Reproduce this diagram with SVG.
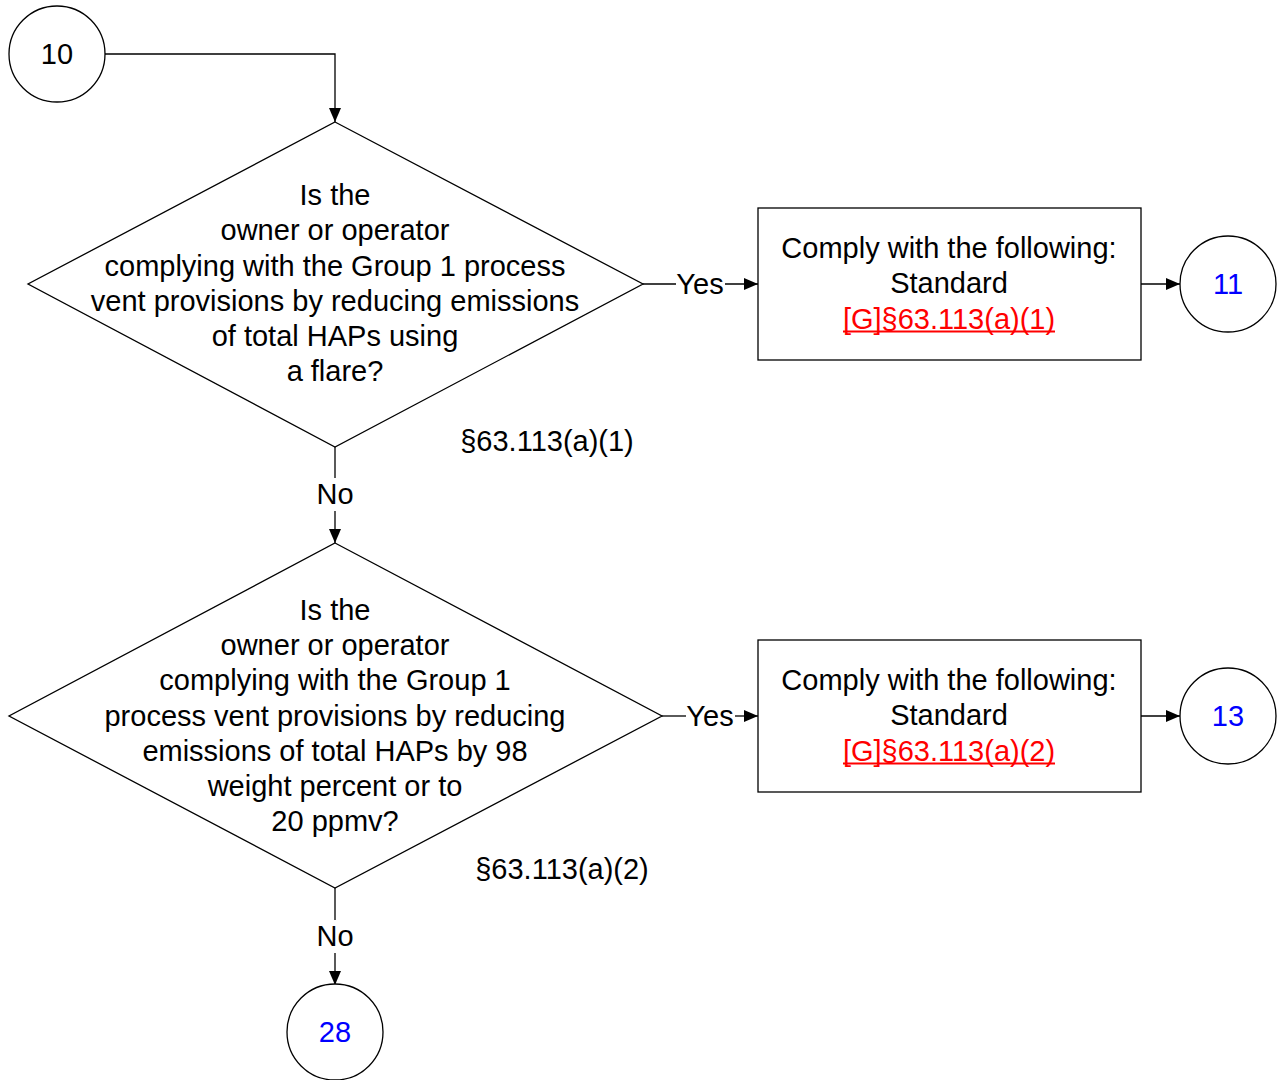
<svg xmlns="http://www.w3.org/2000/svg" width="1278" height="1080" viewBox="0 0 1278 1080">
<style>
.s{fill:#fff;stroke:#000;stroke-width:1.3}
.t{font-family:"Liberation Sans",Arial,sans-serif;font-size:29px;fill:#000;text-anchor:middle;dominant-baseline:central}
.b{fill:#0000ff}
.r{fill:#ff0000}
.u{stroke:#ff0000;stroke-width:2}
.c{fill:none;stroke:#000;stroke-width:1.3}
</style>
<defs>
<marker id="a" markerWidth="14" markerHeight="12" refX="14" refY="6" orient="auto" markerUnits="userSpaceOnUse">
<path d="M0,0 L14,6 L0,12 Z" fill="#000"/>
</marker>
</defs>
<rect width="1278" height="1080" fill="#fff"/>
<g id="connectors">
<path class="c" d="M105,54 H335 V122" marker-end="url(#a)"/>
<path class="c" d="M643,284 H676"/>
<path class="c" d="M725,284 H758" marker-end="url(#a)"/>
<path class="c" d="M1141,284 H1180" marker-end="url(#a)"/>
<path class="c" d="M335,447 V478"/>
<path class="c" d="M335,511 V543" marker-end="url(#a)"/>
<path class="c" d="M662,716 H686"/>
<path class="c" d="M735,716 H758" marker-end="url(#a)"/>
<path class="c" d="M1141,716 H1180" marker-end="url(#a)"/>
<path class="c" d="M335,888 V920"/>
<path class="c" d="M335,953 V985" marker-end="url(#a)"/>
<text class="t" x="700" y="284">Yes</text>
<text class="t" x="710" y="716">Yes</text>
<text class="t" x="335" y="494">No</text>
<text class="t" x="335" y="936">No</text>
</g>
<g id="n10">
<circle class="s" cx="57" cy="54" r="48"/>
<text class="t" x="57" y="54">10</text>
</g>
<g id="d1">
<polygon class="s" points="335,122 643,284 335,447 28,284"/>
<text class="t" x="335" y="195">Is the</text>
<text class="t" x="335" y="230">owner or operator</text>
<text class="t" x="335" y="266">complying with the Group 1 process</text>
<text class="t" x="335" y="301">vent provisions by reducing emissions</text>
<text class="t" x="335" y="336">of total HAPs using</text>
<text class="t" x="335" y="371">a flare?</text>
<text class="t" x="547" y="441">§63.113(a)(1)</text>
</g>
<g id="b1">
<rect class="s" x="758" y="208" width="383" height="152"/>
<text class="t" x="949" y="248">Comply with the following:</text>
<text class="t" x="949" y="283">Standard</text>
<text class="t r" x="949" y="319">[G]§63.113(a)(1)</text>
<line class="u" x1="843" y1="331.5" x2="1055" y2="331.5"/>
</g>
<g id="n11">
<circle class="s" cx="1228" cy="284" r="48"/>
<text class="t b" x="1228" y="284">11</text>
</g>
<g id="d2">
<polygon class="s" points="335,543 662,716 335,888 9,716"/>
<text class="t" x="335" y="610">Is the</text>
<text class="t" x="335" y="645">owner or operator</text>
<text class="t" x="335" y="680">complying with the Group 1</text>
<text class="t" x="335" y="716">process vent provisions by reducing</text>
<text class="t" x="335" y="751">emissions of total HAPs by 98</text>
<text class="t" x="335" y="786">weight percent or to</text>
<text class="t" x="335" y="821">20 ppmv?</text>
<text class="t" x="562" y="869">§63.113(a)(2)</text>
</g>
<g id="b2">
<rect class="s" x="758" y="640" width="383" height="152"/>
<text class="t" x="949" y="680">Comply with the following:</text>
<text class="t" x="949" y="715">Standard</text>
<text class="t r" x="949" y="751">[G]§63.113(a)(2)</text>
<line class="u" x1="843" y1="763.5" x2="1055" y2="763.5"/>
</g>
<g id="n13">
<circle class="s" cx="1228" cy="716" r="48"/>
<text class="t b" x="1228" y="716">13</text>
</g>
<g id="n28">
<circle class="s" cx="335" cy="1032" r="48"/>
<text class="t b" x="335" y="1032">28</text>
</g>
</svg>
